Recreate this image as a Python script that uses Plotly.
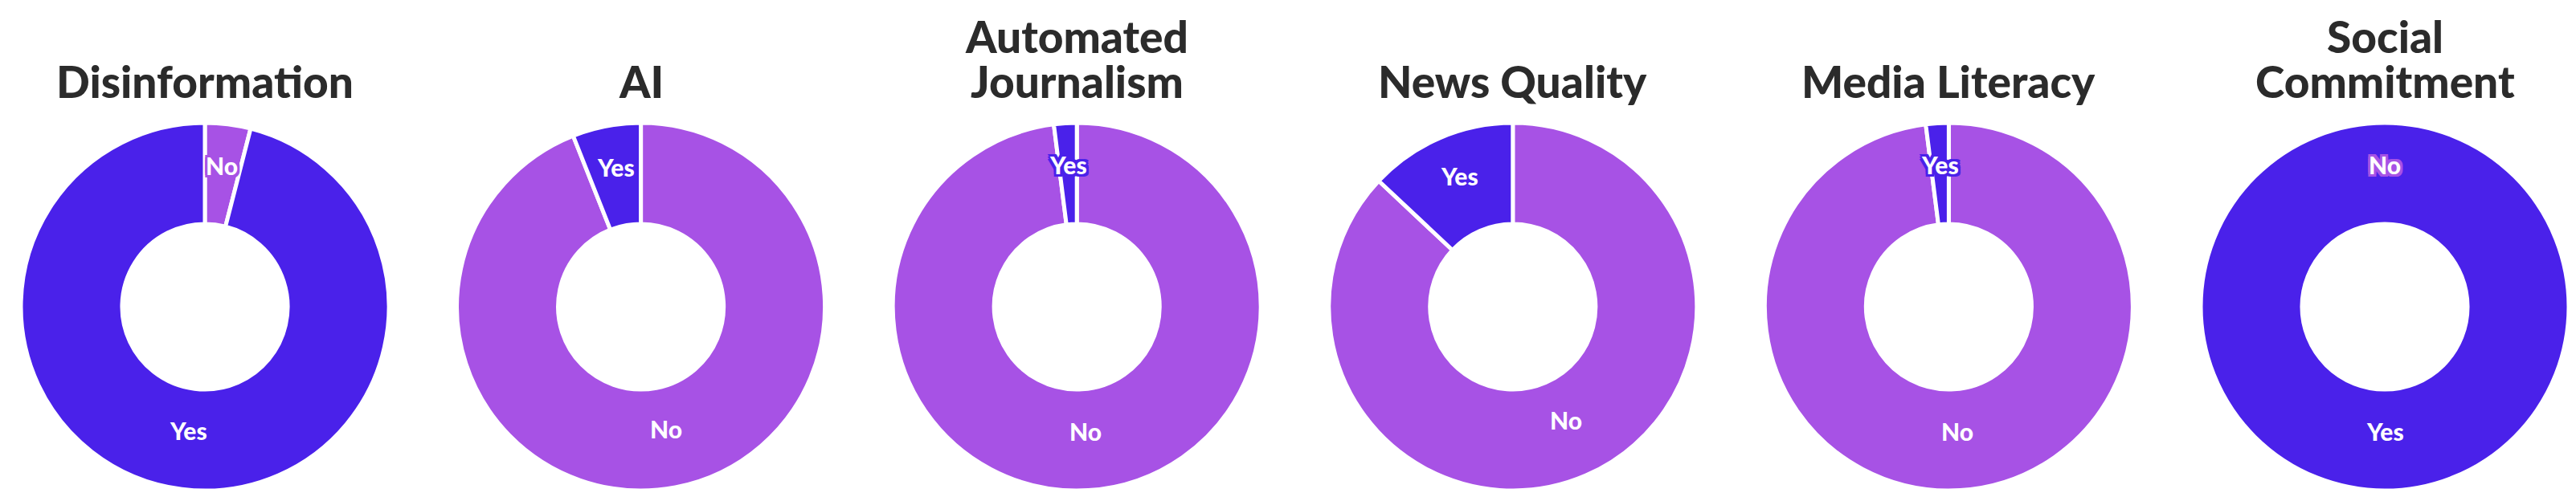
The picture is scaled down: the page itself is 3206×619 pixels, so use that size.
import math
import plotly.graph_objects as go

# survey topics and answers (percent)
topics = ["Disinformation", "AI", "Automated<br>Journalism", "News Quality", "Media Literacy", "Social<br>Commitment"]
answers = ["No", "Yes"]
no_share = [4, 94, 98, 87, 98, 0]
yes_share = [96, 6, 2, 13, 2, 100]

colors = {"No": "#a752e5", "Yes": "#4a21ea"}

W, H = 3206, 619
first_cx, step = 247, 542.6
cy, radius = 374, 229
hole = 0.45
font = "Lato"

fig = go.Figure()

for i, topic in enumerate(topics):
    cx = first_cx + step * i
    vals = [no_share[i], yes_share[i]]
    fig.add_trace(go.Pie(
        labels=answers,
        values=vals,
        hole=hole,
        sort=False,
        direction="clockwise",
        rotation=0,
        textinfo="none",
        hoverinfo="label+percent",
        marker=dict(colors=[colors[a] for a in answers], line=dict(color="white", width=5)),
        domain=dict(x=[(cx - radius) / W, (cx + radius) / W],
                    y=[(H - cy - radius) / H, (H - cy + radius) / H]),
        showlegend=False,
    ))

    # topic title above each donut, one annotation per line so the spacing stays tight
    lines = topic.split("<br>")
    for k, line in enumerate(lines):
        mid = 93 - 56 * (len(lines) - 1 - k)
        fig.add_annotation(
            text=line, x=cx / W, y=(H - mid) / H, xref="paper", yref="paper",
            xanchor="center", yanchor="middle", showarrow=False,
            font=dict(family=font, size=55, color="#2b2b2b", weight=900),
        )

    # slice labels at mid angle, middle of the ring (nudged up a little, like the original)
    total = sum(vals)
    cum = 0
    r_lab = radius * (1 + hole) / 2
    for a, v in zip(answers, vals):
        f = (cum + v / 2) / total
        cum += v
        th = 2 * math.pi * f
        px = cx + r_lab * math.sin(th)
        py = cy - r_lab * math.cos(th) - 11
        c = colors[a]
        stroke = ", ".join(f"{dx}px {dy}px 0 {c}" for dx in (-3, 0, 3) for dy in (-3, 0, 3) if dx or dy)
        fig.add_annotation(
            text=a, x=px / W, y=(H - py) / H, xref="paper", yref="paper",
            xanchor="center", yanchor="middle", showarrow=False,
            font=dict(family=font, size=30, color="white", weight=900, shadow=stroke),
        )

fig.update_layout(
    width=W, height=H,
    margin=dict(l=0, r=0, t=0, b=0),
    paper_bgcolor="white",
    plot_bgcolor="white",
)

fig.write_html("out.html")
